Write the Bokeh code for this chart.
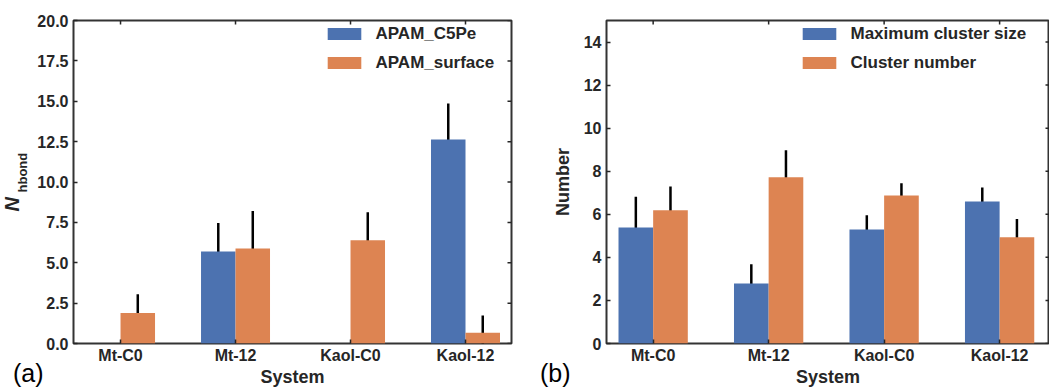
import numpy as np
from bokeh.plotting import figure
from bokeh.models import (ColumnDataSource, Range1d, FixedTicker, Whisker, Title, Div,
                          PrintfTickFormatter)
from bokeh.layouts import row
from bokeh.transform import dodge
from bokeh.embed import file_html
from bokeh.resources import INLINE

categories = ["Mt-C0", "Mt-12", "Kaol-C0", "Kaol-12"]

c5pe = [0.0, 5.70, 0.0, 12.63]
c5pe_err = [0.0, 1.76, 0.0, 2.23]
surface = [1.89, 5.88, 6.40, 0.66]
surface_err = [1.16, 2.33, 1.73, 1.07]

max_cluster = [5.39, 2.79, 5.29, 6.59]
max_cluster_err = [1.43, 0.89, 0.67, 0.66]
cluster_num = [6.19, 7.72, 6.87, 4.94]
cluster_num_err = [1.10, 1.25, 0.57, 0.84]

yticks_a = [0, 2.5, 5, 7.5, 10, 12.5, 15, 17.5, 20]
yticks_b = [0, 2, 4, 6, 8, 10, 12, 14]

BLUE = "#4c72b0"
ORANGE = "#dd8452"
DARK = "#262626"
FONT = "Liberation Sans"


def make_panel(vals1, err1, vals2, err2, name1, name2, x_range, y_max, yticks, fmt,
               width, border_left, border_right, legend_loc):
    p = figure(width=width, height=389, x_range=x_range, y_range=Range1d(0, y_max),
               output_backend="svg", toolbar_location=None,
               min_border_left=border_left, min_border_right=border_right,
               min_border_top=20, min_border_bottom=45)
    p.xgrid.visible = False
    p.ygrid.visible = False
    p.outline_line_color = "#333333"
    p.outline_line_width = 2

    xs = list(range(len(categories)))
    src = ColumnDataSource(dict(
        x=xs, v1=vals1, v2=vals2,
        lo1=[v - e for v, e in zip(vals1, err1)], hi1=[v + e for v, e in zip(vals1, err1)],
        lo2=[v - e for v, e in zip(vals2, err2)], hi2=[v + e for v, e in zip(vals2, err2)],
    ))
    p.vbar(x=dodge("x", -0.15), top="v1", width=0.3, source=src, fill_color=BLUE,
           line_color=None, legend_label=name1)
    p.vbar(x=dodge("x", 0.15), top="v2", width=0.3, source=src, fill_color=ORANGE,
           line_color=None, legend_label=name2)
    for off, lo, hi in ((-0.15, "lo1", "hi1"), (0.15, "lo2", "hi2")):
        w = Whisker(base=dodge("x", off), lower=lo, upper=hi, source=src,
                    line_color="black", line_width=2.5, upper_head=None, lower_head=None)
        p.add_layout(w)

    # inward tick marks on the top and right edges (clipped to the frame)
    p.scatter(x=xs, y=[y_max] * len(xs), marker="dash", angle=np.pi / 2, size=8,
              line_color=DARK, line_width=1.5)
    p.scatter(x=[x_range.end] * len(yticks), y=yticks, marker="dash", size=8,
              line_color=DARK, line_width=1.5)

    xa = p.xaxis[0]
    xa.ticker = FixedTicker(ticks=xs)
    xa.major_label_overrides = {i: c for i, c in enumerate(categories)}
    ya = p.yaxis[0]
    ya.ticker = FixedTicker(ticks=yticks)
    ya.formatter = PrintfTickFormatter(format=fmt)

    for ax in (xa, ya):
        ax.axis_line_color = None
        ax.major_tick_in = 4
        ax.major_tick_out = 0
        ax.major_tick_line_color = DARK
        ax.major_tick_line_width = 1.5
        ax.minor_tick_line_color = None
        ax.major_label_text_font = FONT
        ax.major_label_text_font_style = "bold"
        ax.major_label_text_font_size = "16px"
        ax.major_label_text_color = DARK
        ax.axis_label_text_font = FONT
        ax.axis_label_text_font_style = "bold"
        ax.axis_label_text_font_size = "18px"
        ax.axis_label_text_color = DARK
    xa.major_label_standoff = 3
    xa.axis_label = "System"
    xa.axis_label_standoff = 0
    ya.major_label_standoff = 5

    lg = p.legend[0]
    lg.location = legend_loc
    lg.margin = 0
    lg.padding = 0
    lg.border_line_color = None
    lg.background_fill_alpha = 0
    lg.glyph_width = 42
    lg.glyph_height = 15
    lg.label_height = 15
    lg.spacing = 9
    lg.label_standoff = 11
    lg.label_text_font = FONT
    lg.label_text_font_style = "bold"
    lg.label_text_font_size = "17px"
    lg.label_text_color = DARK
    return p


p1 = make_panel(c5pe, c5pe_err, surface, surface_err, "APAM_C5Pe", "APAM_surface",
                Range1d(-0.409, 3.4), 20, yticks_a, "%.1f", 525, 73, 14, (249.5, 270.5))
p2 = make_panel(max_cluster, max_cluster_err, cluster_num, cluster_num_err,
                "Maximum cluster size", "Cluster number",
                Range1d(-0.404, 3.432), 15, yticks_b, "%d", 524, 81, 0, (191.5, 270.5))
p2.yaxis[0].axis_label = "Number"
p2.yaxis[0].axis_label_standoff = 8

# y-axis label of panel (a): bold italic N with subscript "hbond", as side titles
p1.add_layout(Title(text="hbond", align="left", offset=151, standoff=6, vertical_align="top",
                    text_font=FONT, text_font_style="bold", text_font_size="13px",
                    text_color=DARK), "left")
p1.add_layout(Title(text="N", align="left", offset=132, standoff=-22, vertical_align="bottom",
                    text_font=FONT, text_font_style="bold italic", text_font_size="20px",
                    text_color=DARK), "left")


def panel_tag(txt, left):
    return Div(text=f'<span style="font-family:\'Liberation Sans\';font-size:25px;'
                    f'line-height:28px;color:black">{txt}</span>',
               width=40, height=30,
               styles={"position": "absolute", "left": f"{left}px", "top": "354px",
                       "z-index": "10"})


layout = row(p1, p2, panel_tag("(a)", 8), panel_tag("(b)", 535), spacing=0)
open("out.html", "w").write(file_html(layout, INLINE))
